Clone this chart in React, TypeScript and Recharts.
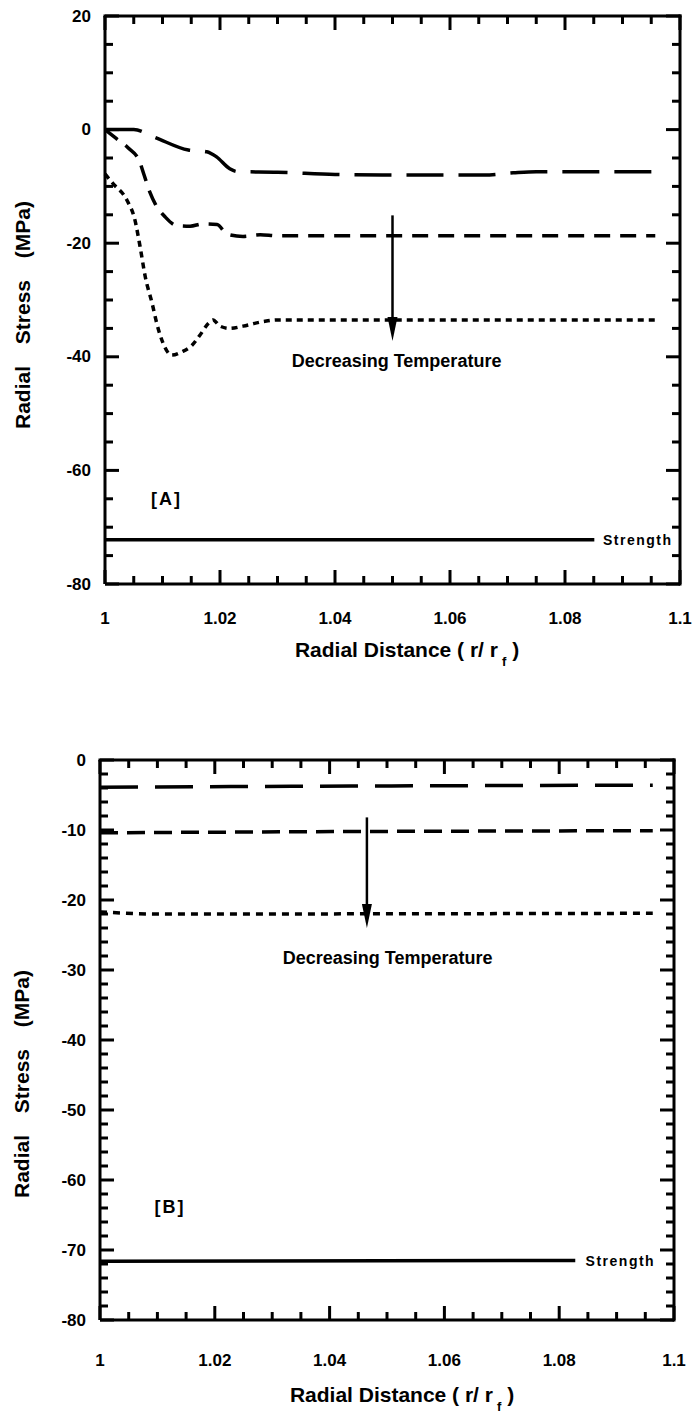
import { LineChart, Line, XAxis, YAxis, ReferenceLine } from 'recharts';

const FONT = "'Liberation Sans', Arial, Helvetica, sans-serif";

// shared x axis: radial distance r / r_f
const xMajorTicks = [1, 1.02, 1.04, 1.06, 1.08, 1.1];
const xTickLabels = ['1', '1.02', '1.04', '1.06', '1.08', '1.1'];
const xMinorStep = 0.005;

// ---- panel [A] ----
const yMajorA = [20, 0, -20, -40, -60, -80];
const yLabelsA = ['20', '0', '-20', '-40', '-60', '-80'];
const yMinorStepA = 5;

const longDashA = [
  { x: 1.0, y: 0 },
  { x: 1.005, y: 0 },
  { x: 1.0085, y: -1.3 },
  { x: 1.0145, y: -3.6 },
  { x: 1.0177, y: -3.9 },
  { x: 1.0194, y: -4.8 },
  { x: 1.0217, y: -6.9 },
  { x: 1.023, y: -7.4 },
  { x: 1.03, y: -7.5 },
  { x: 1.04, y: -7.9 },
  { x: 1.05, y: -8.0 },
  { x: 1.066, y: -8.0 },
  { x: 1.071, y: -7.6 },
  { x: 1.075, y: -7.4 },
  { x: 1.0957, y: -7.4 },
];

const mediumDashA = [
  { x: 1.0, y: 0 },
  { x: 1.002, y: -1.6 },
  { x: 1.004, y: -3.2 },
  { x: 1.006, y: -5.6 },
  { x: 1.0068, y: -8.0 },
  { x: 1.0078, y: -11.0 },
  { x: 1.0088, y: -13.2 },
  { x: 1.0104, y: -15.3 },
  { x: 1.0125, y: -16.9 },
  { x: 1.0148, y: -17.0 },
  { x: 1.017, y: -16.6 },
  { x: 1.0195, y: -16.7 },
  { x: 1.0212, y: -18.4 },
  { x: 1.024, y: -18.8 },
  { x: 1.027, y: -18.5 },
  { x: 1.03, y: -18.7 },
  { x: 1.0957, y: -18.7 },
];

const dottedA = [
  { x: 1.0, y: -7.8 },
  { x: 1.0014, y: -9.5 },
  { x: 1.0038, y: -12.4 },
  { x: 1.0052, y: -15.9 },
  { x: 1.0061, y: -20.6 },
  { x: 1.007, y: -25.9 },
  { x: 1.0082, y: -30.6 },
  { x: 1.009, y: -34.1 },
  { x: 1.0101, y: -37.6 },
  { x: 1.0116, y: -39.7 },
  { x: 1.0134, y: -39.1 },
  { x: 1.0151, y: -38.0 },
  { x: 1.0165, y: -36.2 },
  { x: 1.018, y: -34.1 },
  { x: 1.0188, y: -33.5 },
  { x: 1.02, y: -34.6 },
  { x: 1.0217, y: -35.0 },
  { x: 1.024, y: -34.6 },
  { x: 1.0275, y: -33.8 },
  { x: 1.03, y: -33.5 },
  { x: 1.0957, y: -33.5 },
];

const strengthA = [
  { x: 1.0, y: -72.2 },
  { x: 1.0851, y: -72.2 },
];

const arrowA = [
  { x: 1.05, y: -15.1 },
  { x: 1.05, y: -37.2 },
];
const noteA = { x: 1.0507, y: -40.8 };
const tagA = { x: 1.0107, y: -65 };
const strengthLabelA = { x: 1.0866, y: -72.2 };

// ---- panel [B] ----
const yMajorB = [0, -10, -20, -30, -40, -50, -60, -70, -80];
const yLabelsB = ['0', '-10', '-20', '-30', '-40', '-50', '-60', '-70', '-80'];
const yMinorStepB = 2;

const longDashB = [
  { x: 1.0, y: -3.9 },
  { x: 1.05, y: -3.7 },
  { x: 1.0963, y: -3.6 },
];
const mediumDashB = [
  { x: 1.0, y: -10.4 },
  { x: 1.05, y: -10.2 },
  { x: 1.0963, y: -10.1 },
];
const dottedB = [
  { x: 1.0, y: -21.7 },
  { x: 1.01, y: -22.0 },
  { x: 1.0963, y: -21.9 },
];
const strengthB = [
  { x: 1.0, y: -71.6 },
  { x: 1.0828, y: -71.5 },
];

const arrowB = [
  { x: 1.0465, y: -8.2 },
  { x: 1.0465, y: -24 },
];
const noteB = { x: 1.0501, y: -28.3 };
const tagB = { x: 1.0122, y: -63.8 };
const strengthLabelB = { x: 1.0846, y: -71.5 };

// ---- helpers ----
const near = (a: number, b: number) => Math.abs(a - b) < 1e-6;

const fillTicks = (majors: number[], step: number) => {
  const lo = Math.min(...majors);
  const hi = Math.max(...majors);
  const n = Math.round((hi - lo) / step);
  return Array.from({ length: n + 1 }, (_, i) => +(lo + i * step).toFixed(4));
};

const xTicks = fillTicks(xMajorTicks, xMinorStep);

const MAJOR_LEN = 14;
const MINOR_LEN = 8;
const MARK_W = 3;

// bottom axis: inward mark plus label on majors
const makeXTick = (labelDy: number) => (props: any) => {
  const { x, y, payload } = props;
  const i = xMajorTicks.findIndex((m) => near(m, payload.value));
  const len = i >= 0 ? MAJOR_LEN : MINOR_LEN;
  return (
    <g>
      <line x1={x} x2={x} y1={y} y2={y - len} stroke="#000" strokeWidth={MARK_W} />
      {i >= 0 && (
        <text
          x={x}
          y={y + labelDy}
          textAnchor="middle"
          dominantBaseline="central"
          fontFamily={FONT}
          fontWeight="bold"
          fontSize={17}
          fill="#000"
        >
          {xTickLabels[i]}
        </text>
      )}
    </g>
  );
};

// left axis: inward mark plus label on majors
const makeYTick = (majors: number[], labels: string[]) => (props: any) => {
  const { x, y, payload } = props;
  const i = majors.findIndex((m) => near(m, payload.value));
  const len = i >= 0 ? MAJOR_LEN : MINOR_LEN;
  return (
    <g>
      <line x1={x} x2={x + len} y1={y} y2={y} stroke="#000" strokeWidth={MARK_W} />
      {i >= 0 && (
        <text
          x={x - 14}
          y={y}
          textAnchor="end"
          dominantBaseline="central"
          fontFamily={FONT}
          fontWeight="bold"
          fontSize={17}
          fill="#000"
        >
          {labels[i]}
        </text>
      )}
    </g>
  );
};

// top / right edge marks, drawn as dots of an unstroked series on that edge
const tickDot = (edge: 'top' | 'right', isMajor: (v: number) => boolean) => (props: any) => {
  const { cx, cy, payload, index } = props;
  const v = edge === 'top' ? payload.x : payload.y;
  const len = isMajor(v) ? MAJOR_LEN : MINOR_LEN;
  const x2 = edge === 'right' ? cx - len : cx;
  const y2 = edge === 'top' ? cy + len : cy;
  return <line key={`${edge}-${index}`} x1={cx} y1={cy} x2={x2} y2={y2} stroke="#000" strokeWidth={MARK_W} />;
};

const ArrowShape = (props: any) => {
  const { x1, y1, x2, y2 } = props;
  const head = 24;
  return (
    <g>
      <line x1={x1} y1={y1} x2={x2} y2={y2 - head + 2} stroke="#000" strokeWidth={2.5} />
      <polygon points={`${x2 - 5},${y2 - head} ${x2 + 5},${y2 - head} ${x2},${y2}`} fill="#000" />
    </g>
  );
};

const textAt = (label: string, size: number, anchor: string, spacing = 0) => (p: any) => (
  <text
    x={p.x1}
    y={p.y1}
    textAnchor={anchor}
    dominantBaseline="central"
    fontFamily={FONT}
    fontWeight="bold"
    fontSize={size}
    letterSpacing={spacing}
    fill="#000"
  >
    {label}
  </text>
);

interface Pt {
  x: number;
  y: number;
}

interface PanelProps {
  height: number;
  margin: { top: number; right: number; bottom: number; left: number };
  yAxisWidth: number;
  yMajors: number[];
  yLabels: string[];
  yMinorStep: number;
  longDash: Pt[];
  mediumDash: Pt[];
  dotted: Pt[];
  strength: Pt[];
  arrow: Pt[];
  note: Pt;
  tag: Pt;
  tagText: string;
  strengthLabel: Pt;
  dashes: [string, string, string];
  xLabelDy: number;
}

const Panel = (p: PanelProps) => {
  const yMin = Math.min(...p.yMajors);
  const yMax = Math.max(...p.yMajors);
  const yTicks = fillTicks(p.yMajors, p.yMinorStep);
  const axisLine = { stroke: '#000', strokeWidth: 3 };
  const isMajorY = (v: number) => p.yMajors.some((m) => near(m, v));
  const isMajorX = (v: number) => xMajorTicks.some((m) => near(m, v));
  const topMarks = xTicks.map((v) => ({ x: v, y: yMax }));
  const rightMarks = yTicks.map((v) => ({ x: 1.1, y: v }));
  return (
    <LineChart width={696} height={p.height} margin={p.margin}>
      <XAxis
        type="number"
        dataKey="x"
        domain={[1, 1.1]}
        ticks={xTicks}
        interval={0}
        tickSize={0}
        tickMargin={0}
        tickLine={false}
        axisLine={axisLine}
        tick={makeXTick(p.xLabelDy)}
        height={60}
      />
      <YAxis
        type="number"
        domain={[yMin, yMax]}
        ticks={yTicks}
        interval={0}
        tickSize={0}
        tickMargin={0}
        tickLine={false}
        axisLine={axisLine}
        tick={makeYTick(p.yMajors, p.yLabels)}
        width={p.yAxisWidth}
      />
      {/* closing frame: top and right edges */}
      <ReferenceLine y={yMax} stroke="#000" strokeWidth={3} strokeLinecap="square" />
      <ReferenceLine x={1.1} stroke="#000" strokeWidth={3} strokeLinecap="square" />
      <Line data={topMarks} dataKey="y" stroke="none" dot={tickDot('top', isMajorX)} activeDot={false} legendType="none" isAnimationActive={false} />
      <Line data={rightMarks} dataKey="y" stroke="none" dot={tickDot('right', isMajorY)} activeDot={false} legendType="none" isAnimationActive={false} />
      <Line data={p.strength} dataKey="y" type="linear" stroke="#000" strokeWidth={3.5} dot={false} isAnimationActive={false} />
      <Line data={p.longDash} dataKey="y" type="monotone" stroke="#000" strokeWidth={3.5} strokeDasharray={p.dashes[0]} dot={false} isAnimationActive={false} />
      <Line data={p.mediumDash} dataKey="y" type="monotone" stroke="#000" strokeWidth={3.5} strokeDasharray={p.dashes[1]} dot={false} isAnimationActive={false} />
      <Line data={p.dotted} dataKey="y" type="monotone" stroke="#000" strokeWidth={3.5} strokeDasharray={p.dashes[2]} dot={false} isAnimationActive={false} />
      <ReferenceLine segment={p.arrow} shape={ArrowShape} />
      <ReferenceLine segment={[p.note, p.note]} shape={textAt('Decreasing Temperature', 18, 'middle')} />
      <ReferenceLine segment={[p.tag, p.tag]} shape={textAt(p.tagText, 18, 'middle', 2)} />
      <ReferenceLine segment={[p.strengthLabel, p.strengthLabel]} shape={textAt('Strength', 14, 'start', 1.5)} />
    </LineChart>
  );
};

const titleStyle: any = {
  position: 'absolute',
  fontFamily: FONT,
  fontWeight: 'bold',
  fontSize: 21,
  color: '#000',
  whiteSpace: 'nowrap',
  lineHeight: '24px',
};

const XTitle = ({ cx, cy }: { cx: number; cy: number }) => (
  <div style={{ ...titleStyle, left: cx, top: cy, transform: 'translate(-50%, -50%)' }}>
    Radial Distance ( r/ r<span style={{ fontSize: 13, position: 'relative', top: 9, marginLeft: 4 }}>f</span> )
  </div>
);

const YTitle = ({ cx, cy }: { cx: number; cy: number }) => (
  <div
    style={{
      ...titleStyle,
      left: cx,
      top: cy,
      wordSpacing: 16,
      transform: 'translate(-50%, -50%) rotate(-90deg)',
    }}
  >
    Radial Stress (MPa)
  </div>
);

const App = () => {
  return (
    <div style={{ position: 'absolute', left: 0, top: 0, width: 696, height: 1416, background: '#fff' }}>
      <div style={{ position: 'absolute', left: 0, top: 0 }}>
        <Panel
          height={700}
          margin={{ top: 16, right: 16, bottom: 56, left: 0 }}
          yAxisWidth={105}
          yMajors={yMajorA}
          yLabels={yLabelsA}
          yMinorStep={yMinorStepA}
          longDash={longDashA}
          mediumDash={mediumDashA}
          dotted={dottedA}
          strength={strengthA}
          arrow={arrowA}
          note={noteA}
          tag={tagA}
          tagText="[A]"
          strengthLabel={strengthLabelA}
          dashes={['37 15', '16 10', '6 5']}
          xLabelDy={34}
        />
      </div>
      <div style={{ position: 'absolute', left: 0, top: 700 }}>
        <Panel
          height={716}
          margin={{ top: 60, right: 22, bottom: 36, left: 0 }}
          yAxisWidth={100}
          yMajors={yMajorB}
          yLabels={yLabelsB}
          yMinorStep={yMinorStepB}
          longDash={longDashB}
          mediumDash={mediumDashB}
          dotted={dottedB}
          strength={strengthB}
          arrow={arrowB}
          note={noteB}
          tag={tagB}
          tagText="[B]"
          strengthLabel={strengthLabelB}
          dashes={['38 17', '18 9', '7 6']}
          xLabelDy={40}
        />
      </div>
      <XTitle cx={407} cy={651} />
      <YTitle cx={23} cy={315} />
      <XTitle cx={402} cy={1396} />
      <YTitle cx={22} cy={1084} />
    </div>
  );
};

export default App;
